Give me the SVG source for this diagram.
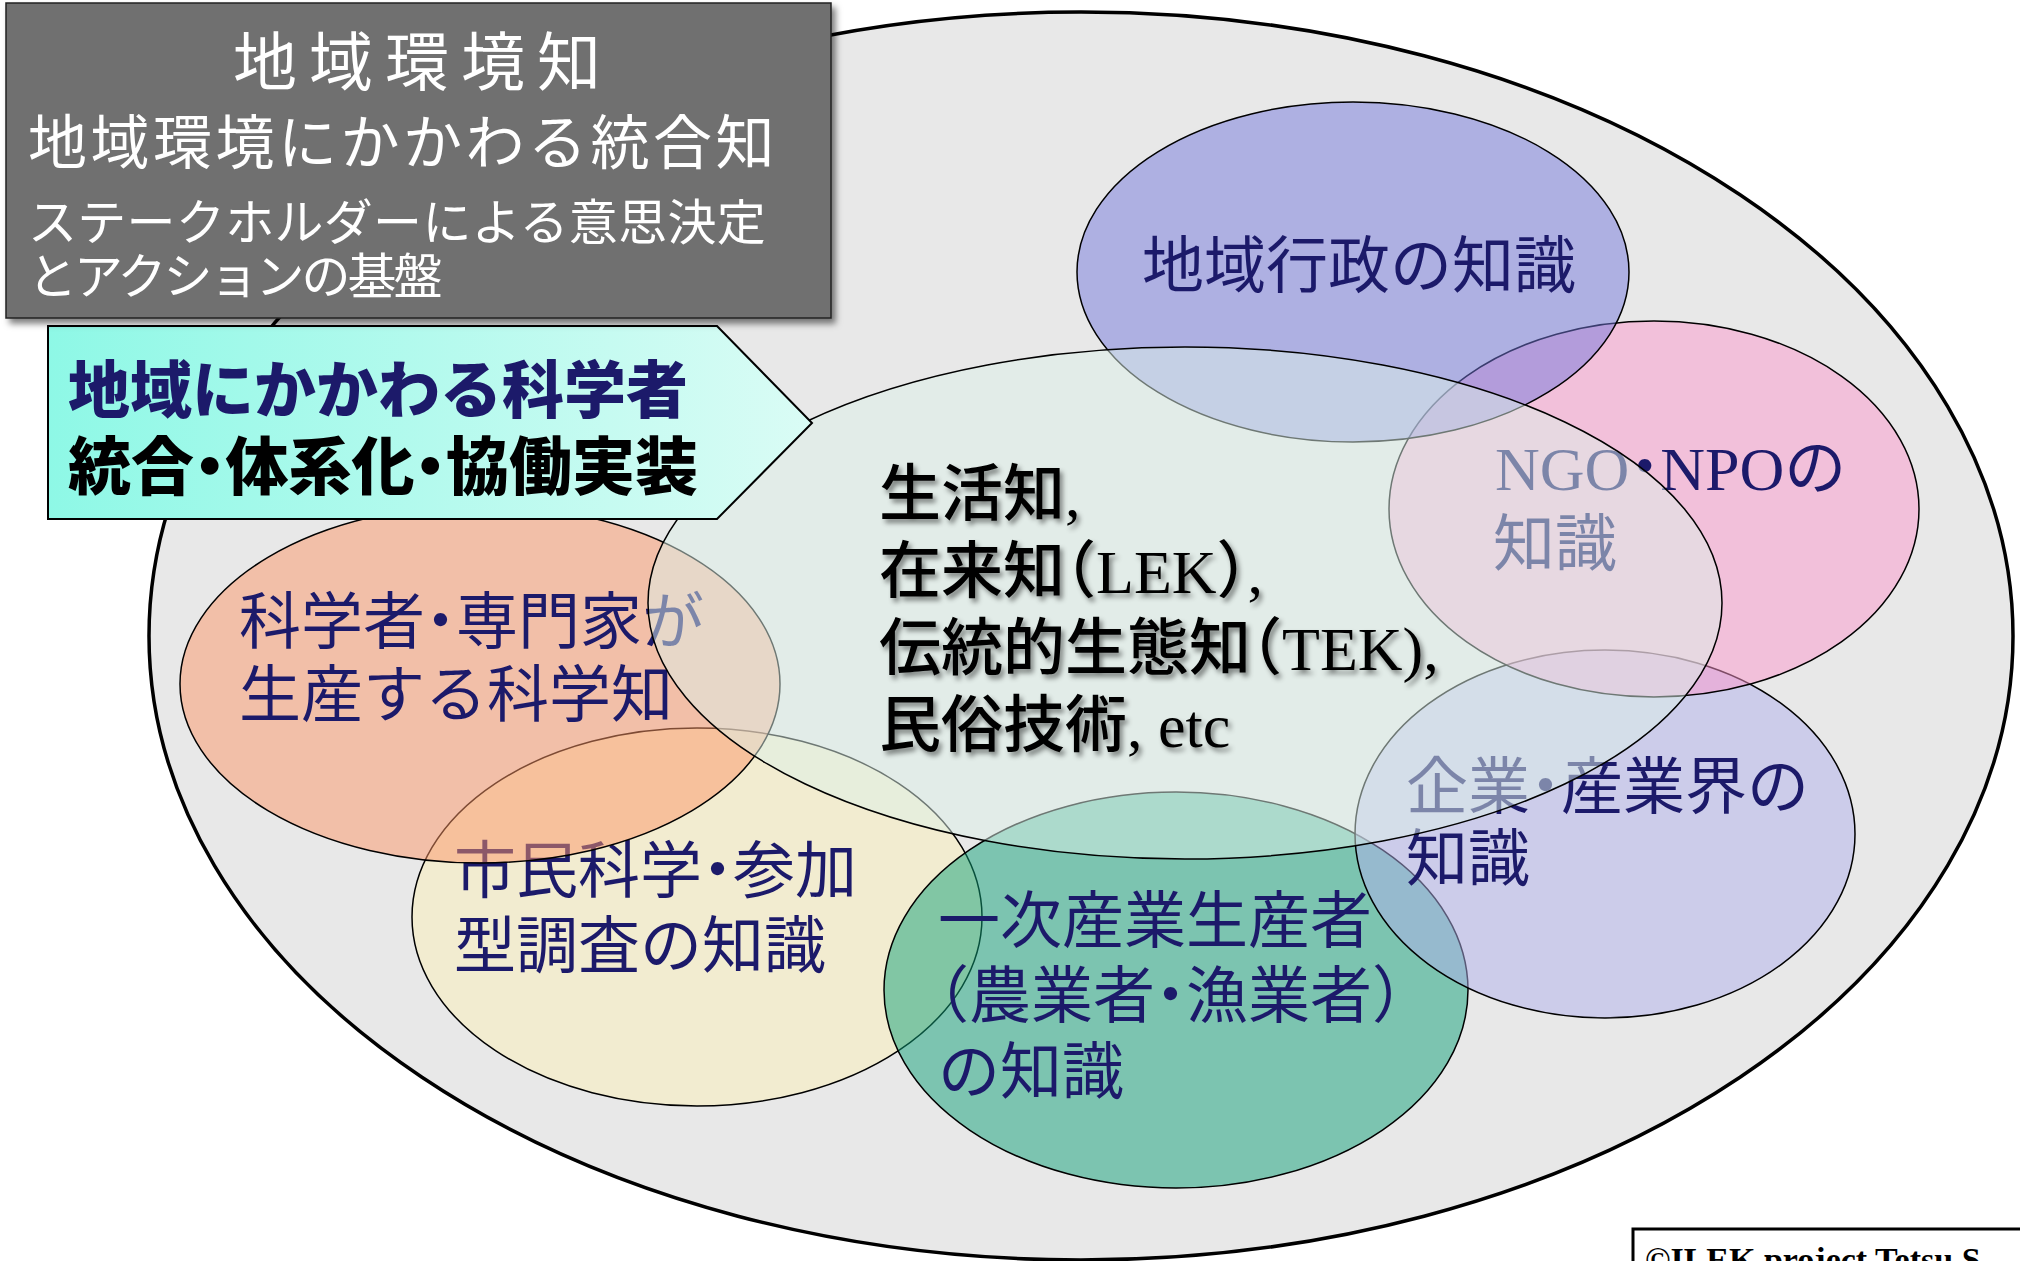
<svg xmlns="http://www.w3.org/2000/svg" width="2020" height="1261" viewBox="0 0 2020 1261">
<style>
.lbl{font-family:"Noto Sans CJK JP",sans-serif;font-size:62px;fill:#1c1a6a;}
.mix{font-family:"Liberation Serif","Noto Sans CJK JP",serif;}
.cjk{font-family:"Noto Sans CJK JP",sans-serif;}
.h{font-feature-settings:"halt";}
.el{stroke:#000;stroke-width:1.5;fill-opacity:0.5;}
.wt{fill:#fff;font-family:"Noto Sans CJK JP",sans-serif;}
.ctr{font-family:"Liberation Serif","Noto Sans CJK JP",serif;font-size:62px;fill:#000;font-weight:500;}
</style>
<defs>
<linearGradient id="cyan" x1="0" y1="0" x2="1" y2="0">
<stop offset="0" stop-color="#8ef8e6"/>
<stop offset="1" stop-color="#dafcf5"/>
</linearGradient>
<filter id="boxShadow" x="-5%" y="-5%" width="115%" height="120%">
<feDropShadow dx="4" dy="5" stdDeviation="3" flood-color="#000" flood-opacity="0.5"/>
</filter>
<filter id="txtShadow" x="-5%" y="-10%" width="115%" height="130%">
<feDropShadow dx="3" dy="4" stdDeviation="2.5" flood-color="#000" flood-opacity="0.45"/>
</filter>
</defs>

<g id="outer">
<ellipse cx="1081" cy="636" rx="932" ry="624" fill="#e8e8e8" stroke="#000" stroke-width="3.5"/>
</g>

<g id="connectors"></g>

<g id="node-citizen">
<ellipse class="el" cx="697" cy="917" rx="285" ry="189" fill="rgb(252,240,184)"/>
<text class="lbl" x="454" y="893">市民科学<tspan class="h">・</tspan>参加</text>
<text class="lbl" x="454" y="968">型調査の知識</text>
</g>

<g id="node-science">
<ellipse class="el" cx="480" cy="684" rx="300" ry="179" fill="rgb(252,150,104)"/>
<text class="lbl" x="239" y="644">科学者<tspan class="h">・</tspan>専門家が</text>
<text class="lbl" x="239" y="717">生産する科学知</text>
</g>

<g id="node-primary">
<ellipse class="el" cx="1176" cy="990" rx="292" ry="198" fill="rgb(16,160,120)"/>
<text class="lbl" x="938" y="943">一次産業生産者</text>
<text class="lbl" x="938" y="1018"><tspan class="h">（</tspan>農業者<tspan class="h">・</tspan>漁業者<tspan class="h">）</tspan></text>
<text class="lbl" x="938" y="1094">の知識</text>
</g>

<g id="node-industry">
<ellipse class="el" cx="1605" cy="834" rx="250" ry="184" fill="rgb(176,176,236)"/>
<text class="lbl" x="1406" y="809">企業<tspan class="h">・</tspan>産業界の</text>
<text class="lbl" x="1406" y="881">知識</text>
</g>

<g id="node-ngo">
<ellipse class="el" cx="1654" cy="509" rx="265" ry="188" fill="rgb(252,152,204)"/>
<text class="lbl mix" x="1495" y="490">NGO<tspan class="h">・</tspan>NPOの</text>
<text class="lbl" x="1493" y="566">知識</text>
</g>

<g id="node-admin">
<ellipse class="el" cx="1353" cy="272" rx="276" ry="170" fill="rgb(116,120,220)"/>
<text class="lbl" x="1142" y="288">地域行政の知識</text>
</g>

<g id="node-local">
<ellipse class="el" cx="1185" cy="603" rx="537" ry="256" fill="rgb(220,240,232)"/>
<g filter="url(#txtShadow)">
<text class="ctr" x="879" y="516">生活知,</text>
<text class="ctr" x="879" y="593">在来知<tspan class="h">（</tspan>LEK<tspan class="h">）</tspan>,</text>
<text class="ctr" x="879" y="670">伝統的生態知<tspan class="h">（</tspan>TEK),</text>
<text class="ctr" x="879" y="747">民俗技術, etc</text>
</g>
</g>

<g id="node-scientist-callout">
<polygon points="48,326 717,326 812,423 717,519 48,519" fill="url(#cyan)" stroke="#000" stroke-width="2"/>
<text class="cjk" x="68" y="413" font-size="62" font-weight="800" fill="#1c1a6a">地域にかかわる科学者</text>
<text class="cjk" x="68" y="489" font-size="63" font-weight="800" fill="#000">統合<tspan class="h">・</tspan>体系化<tspan class="h">・</tspan>協働実装</text>
</g>

<g id="node-title">
<rect x="6" y="3" width="825" height="315" fill="#6f6f6f" stroke="#222" stroke-width="1.5" filter="url(#boxShadow)"/>
<text class="wt" x="233" y="85" font-size="64" letter-spacing="12">地域環境知</text>
<text class="wt" x="28" y="164" font-size="59" letter-spacing="3.5">地域環境にかかわる統合知</text>
<text class="wt" x="28" y="240" font-size="49" letter-spacing="0.3">ステークホルダーによる意思決定</text>
<text class="wt" x="28" y="294" font-size="49" letter-spacing="-3">とアクションの基盤</text>
</g>

<g id="credit">
<rect x="1633" y="1229" width="420" height="60" fill="#fff" stroke="#000" stroke-width="3"/>
<text x="1645" y="1271" font-family="Liberation Serif, serif" font-size="34" font-weight="700" fill="#000">©ILEK project Tetsu S</text>
</g>
</svg>
